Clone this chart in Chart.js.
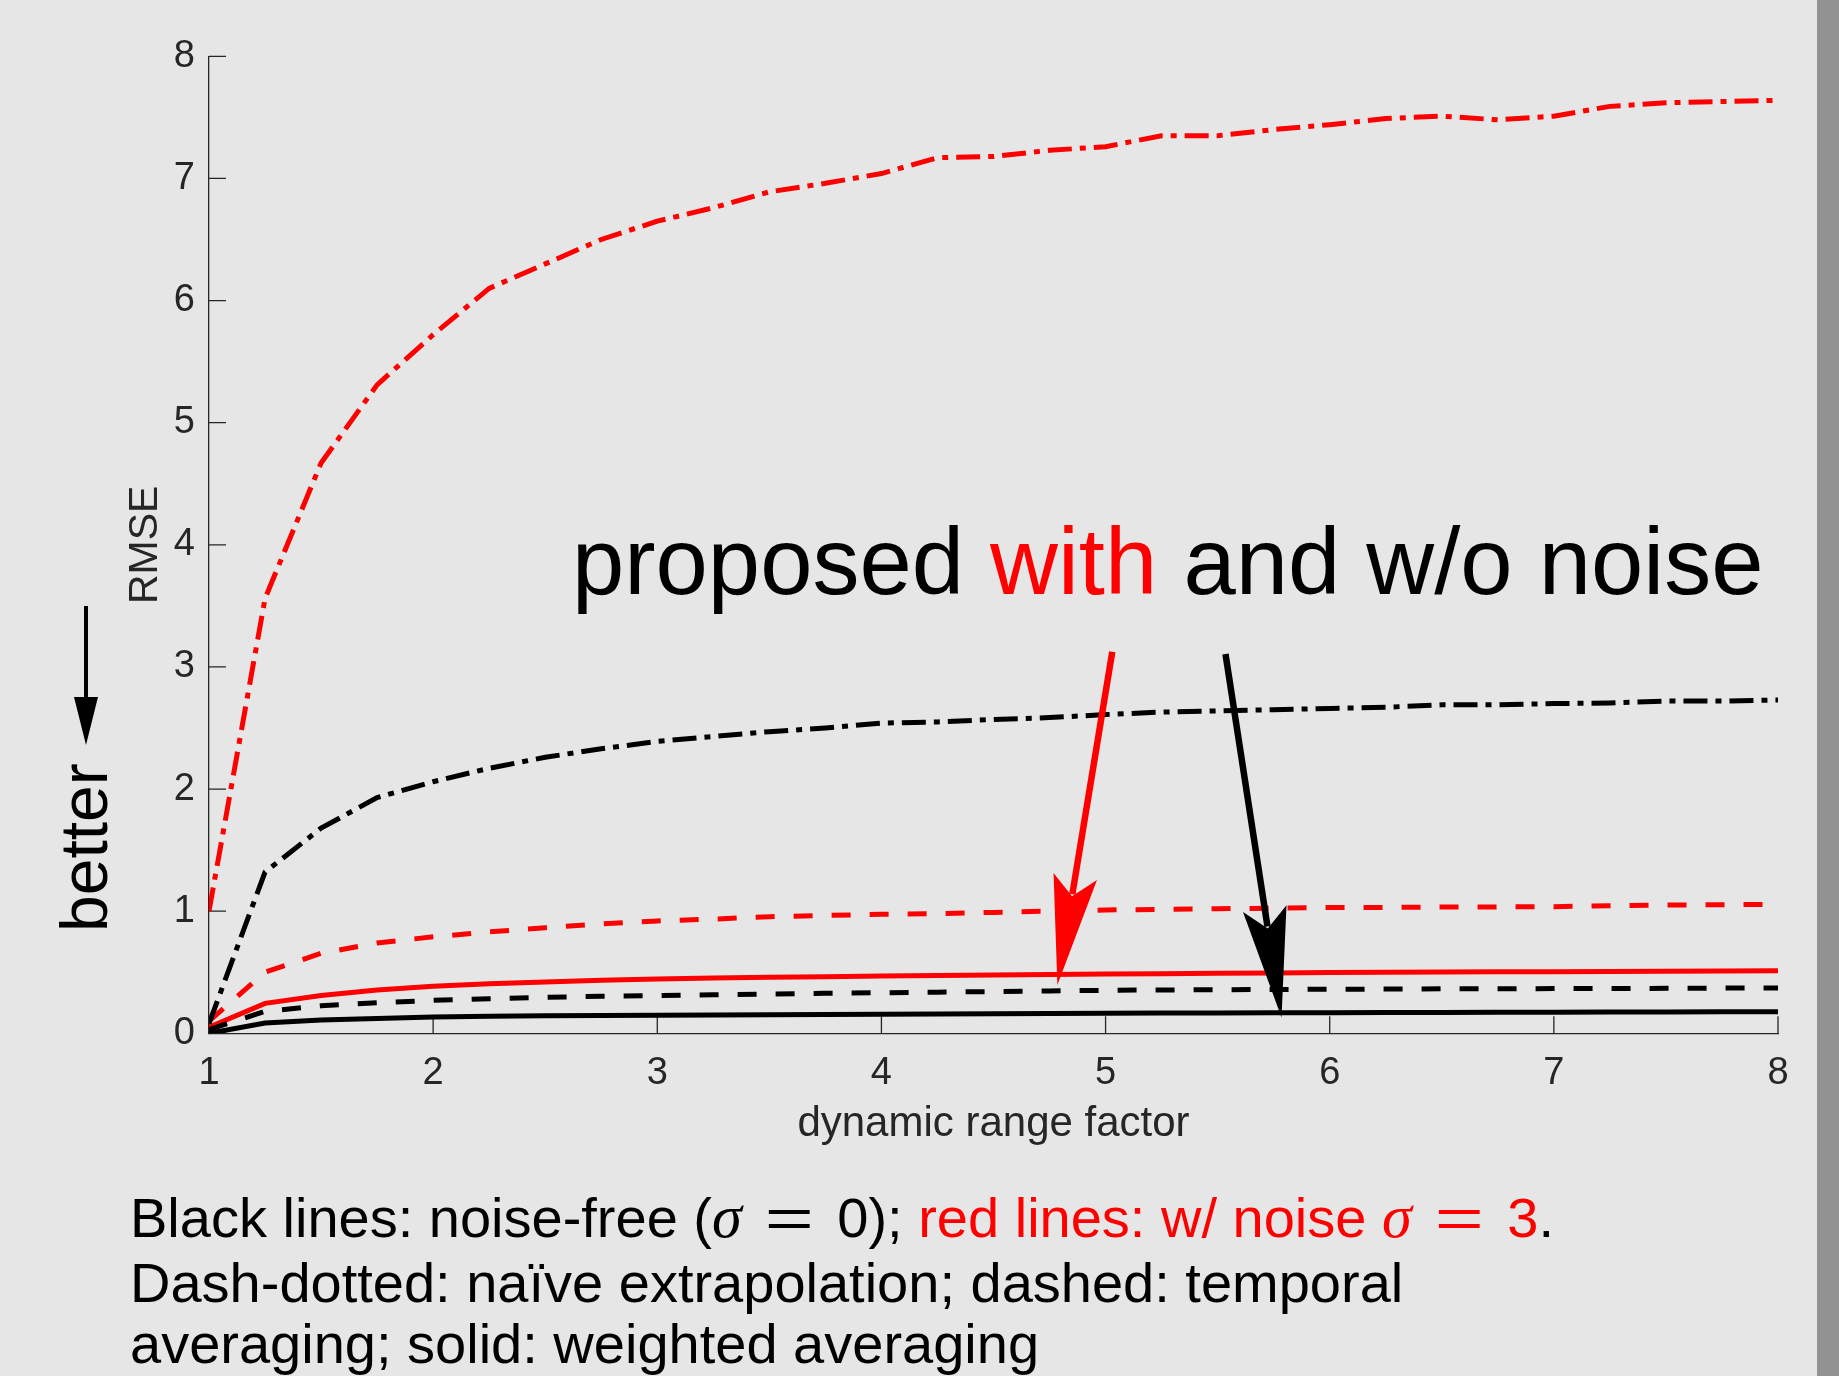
<!DOCTYPE html>
<html>
<head>
<meta charset="utf-8">
<script src="https://cdn.jsdelivr.net/npm/chart.js@4.4.0/dist/chart.umd.min.js"></script>
<style>
  html, body { margin: 0; padding: 0; background: #e6e6e6; }
  body { width: 1839px; height: 1376px; position: relative; overflow: hidden; font-family: 'Liberation Sans', Arial, sans-serif; }
  #grafico { position: absolute; left: 0; top: 0; }
  .barra { position: absolute; left: 1817px; top: 0; width: 22px; height: 1376px; background: #929292; }
  .nota { position: absolute; white-space: nowrap; line-height: 1; color: #000; }
  .rojo { color: #ff0000; }
  .sigma { font-family: 'Liberation Serif', 'DejaVu Serif', serif; font-style: italic; font-size: 1.08em; line-height: 0; }
  .igual { display: inline-block; margin: 0 0.56em; transform: scaleX(1.5); line-height: 0; }
</style>
</head>
<body>
<canvas id="grafico" width="1839" height="1376"></canvas>
<div class="barra"></div>

<div class="nota" style="left:572px; top:515px; font-size:94px;">proposed <span class="rojo">with</span> and w/o noise</div>

<div class="nota" style="left:51px; top:932px; font-size:66px; transform-origin:0 0; transform:rotate(-90deg);">better</div>
<svg style="position:absolute; left:0; top:0;" width="200" height="800">
  <line x1="86" y1="606" x2="86" y2="700" stroke="#000" stroke-width="4"/>
  <polygon points="74,697 98,697 86,745" fill="#000"/>
</svg>

<div class="nota" style="left:130px; top:1190px; font-size:56px;">Black lines: noise-free (<span class="sigma">σ</span><span class="igual">=</span>0); <span class="rojo">red lines: w/ noise <span class="sigma">σ</span><span class="igual">=</span>3</span>.</div>
<div class="nota" style="left:130px; top:1255px; font-size:56px;">Dash-dotted: naïve extrapolation; dashed: temporal</div>
<div class="nota" style="left:130px; top:1316px; font-size:56px;">averaging; solid: weighted averaging</div>

<script>
// factor de rango dinamico (eje x)
const factores = [1, 1.25, 1.5, 1.75, 2, 2.25, 2.5, 2.75, 3, 3.25, 3.5, 3.75, 4, 4.25, 4.5, 4.75,
  5, 5.25, 5.5, 5.75, 6, 6.25, 6.5, 6.75, 7, 7.25, 7.5, 7.75, 8]

// extrapolacion ingenua (dash-dot)
const ingenuaRuido = [1.00, 3.56, 4.67, 5.31, 5.72, 6.10, 6.30, 6.50, 6.65, 6.76, 6.89, 6.96, 7.04, 7.17, 7.18, 7.23,
  7.26, 7.35, 7.35, 7.40, 7.44, 7.49, 7.51, 7.48, 7.51, 7.59, 7.62, 7.63, 7.64]
const ingenuaLimpia = [0.08, 1.32, 1.68, 1.93, 2.06, 2.17, 2.26, 2.33, 2.39, 2.43, 2.47, 2.50, 2.54, 2.55, 2.57, 2.585,
  2.61, 2.63, 2.64, 2.65, 2.66, 2.67, 2.69, 2.69, 2.70, 2.705, 2.72, 2.72, 2.73]

// promedio temporal (dashed)
const temporalRuido = [0.10, 0.50, 0.655, 0.74, 0.79, 0.83, 0.865, 0.895, 0.92, 0.935, 0.955, 0.965, 0.975, 0.98, 0.99, 1.00,
  1.01, 1.015, 1.02, 1.025, 1.03, 1.03, 1.035, 1.035, 1.037, 1.045, 1.05, 1.053, 1.056]
const temporalLimpia = [0.03, 0.18, 0.225, 0.25, 0.27, 0.283, 0.295, 0.303, 0.31, 0.316, 0.322, 0.327, 0.332, 0.337, 0.342, 0.347,
  0.352, 0.355, 0.357, 0.359, 0.361, 0.362, 0.364, 0.365, 0.366, 0.367, 0.368, 0.37, 0.371]

// promedio ponderado (solid)
const ponderadoRuido = [0.05, 0.245, 0.31, 0.355, 0.385, 0.405, 0.42, 0.435, 0.445, 0.452, 0.458, 0.464, 0.469, 0.473, 0.477, 0.481,
  0.485, 0.488, 0.491, 0.494, 0.497, 0.499, 0.501, 0.503, 0.505, 0.507, 0.509, 0.511, 0.513]
const ponderadoLimpia = [0.0, 0.085, 0.108, 0.122, 0.133, 0.139, 0.143, 0.146, 0.148, 0.150, 0.152, 0.154, 0.156, 0.158, 0.160, 0.162,
  0.164, 0.166, 0.167, 0.168, 0.169, 0.170, 0.171, 0.172, 0.173, 0.174, 0.175, 0.176, 0.177]

const ticksX = [1, 2, 3, 4, 5, 6, 7, 8]
const ticksY = [0, 1, 2, 3, 4, 5, 6, 7, 8]

// flechas de anotacion, en coordenadas de datos
const flechas = [
  { desde: [5.03, 3.125], hasta: [4.785, 0.395], color: '#ff0000' },
  { desde: [5.535, 3.105], hasta: [5.785, 0.13], color: '#000000' },
]

const fuente = "'Liberation Sans', Arial, sans-serif"
const ROJO = '#ff0000'
const NEGRO = '#000000'
const DASH = [19, 19]
const DASHDOT = [24, 8, 6, 8]

const serie = (valores) => factores.map((f, i) => ({ x: f, y: valores[i] }))

const ticksAdentro = {
  id: 'ticksAdentro',
  beforeDatasetsDraw(chart) {
    const { ctx, chartArea, scales: { x, y } } = chart
    ctx.save()
    ctx.strokeStyle = '#262626'
    ctx.lineWidth = 1.3
    ctx.beginPath()
    ticksX.forEach((v) => {
      const px = x.getPixelForValue(v)
      ctx.moveTo(px, chartArea.bottom)
      ctx.lineTo(px, chartArea.bottom - 17)
    })
    ticksY.forEach((v) => {
      const py = y.getPixelForValue(v)
      ctx.moveTo(chartArea.left, py)
      ctx.lineTo(chartArea.left + 17, py)
    })
    ctx.stroke()
    ctx.restore()
  },
}

const dibujarFlechas = {
  id: 'dibujarFlechas',
  afterDatasetsDraw(chart) {
    const { ctx, scales: { x, y } } = chart
    flechas.forEach((f) => {
      const x0 = x.getPixelForValue(f.desde[0]), y0 = y.getPixelForValue(f.desde[1])
      const x1 = x.getPixelForValue(f.hasta[0]), y1 = y.getPixelForValue(f.hasta[1])
      const largo = Math.hypot(x1 - x0, y1 - y0)
      const dx = (x1 - x0) / largo, dy = (y1 - y0) / largo
      const nx = -dy, ny = dx
      const punta = (a, b) => [x1 + dx * a + nx * b, y1 + dy * a + ny * b]
      ctx.save()
      ctx.strokeStyle = f.color
      ctx.fillStyle = f.color
      ctx.lineWidth = 6.5
      ctx.beginPath()
      ctx.moveTo(x0, y0)
      ctx.lineTo(...punta(-92, 0))
      ctx.stroke()
      ctx.beginPath()
      ctx.moveTo(x1, y1)
      ctx.lineTo(...punta(-110, -22))
      ctx.lineTo(...punta(-90, 0))
      ctx.lineTo(...punta(-110, 22))
      ctx.closePath()
      ctx.fill()
      ctx.restore()
    })
  },
}

const lienzo = document.getElementById('grafico')

new Chart(lienzo, {
  type: 'line',
  data: {
    datasets: [
      { label: 'naive (noise)', data: serie(ingenuaRuido), borderColor: ROJO, borderDash: DASHDOT },
      { label: 'naive (clean)', data: serie(ingenuaLimpia), borderColor: NEGRO, borderDash: DASHDOT },
      { label: 'temporal (noise)', data: serie(temporalRuido), borderColor: ROJO, borderDash: DASH },
      { label: 'temporal (clean)', data: serie(temporalLimpia), borderColor: NEGRO, borderDash: DASH },
      { label: 'weighted (noise)', data: serie(ponderadoRuido), borderColor: ROJO },
      { label: 'weighted (clean)', data: serie(ponderadoLimpia), borderColor: NEGRO },
    ],
  },
  options: {
    responsive: false,
    animation: false,
    devicePixelRatio: 1,
    layout: { padding: { top: 56.3, right: 61, bottom: 226, left: 0 } },
    plugins: { legend: { display: false }, tooltip: { enabled: false } },
    elements: {
      point: { radius: 0 },
      line: { tension: 0, borderWidth: 5, borderCapStyle: 'butt', borderJoinStyle: 'miter', fill: false },
    },
    scales: {
      x: {
        type: 'linear',
        min: 1,
        max: 8,
        afterFit: (s) => { s.height = 116.7 },
        grid: { display: false, drawTicks: false },
        border: { display: true, color: '#262626', width: 1.3 },
        ticks: { stepSize: 1, padding: 17, color: '#262626', font: { family: fuente, size: 38 } },
        title: { display: true, text: 'dynamic range factor', color: '#262626', font: { family: fuente, size: 42 }, padding: { top: 0, bottom: 0 } },
      },
      y: {
        min: 0,
        max: 8,
        afterFit: (s) => { s.width = 209 },
        grid: { display: false, drawTicks: false },
        border: { display: true, color: '#262626', width: 1.3 },
        ticks: { stepSize: 1, padding: 14, color: '#262626', font: { family: fuente, size: 38 } },
        title: { display: true, text: 'RMSE', color: '#262626', font: { family: fuente, size: 41 }, padding: { top: 121.5, bottom: 0 } },
      },
    },
  },
  plugins: [ticksAdentro, dibujarFlechas],
})
</script>
</body>
</html>
